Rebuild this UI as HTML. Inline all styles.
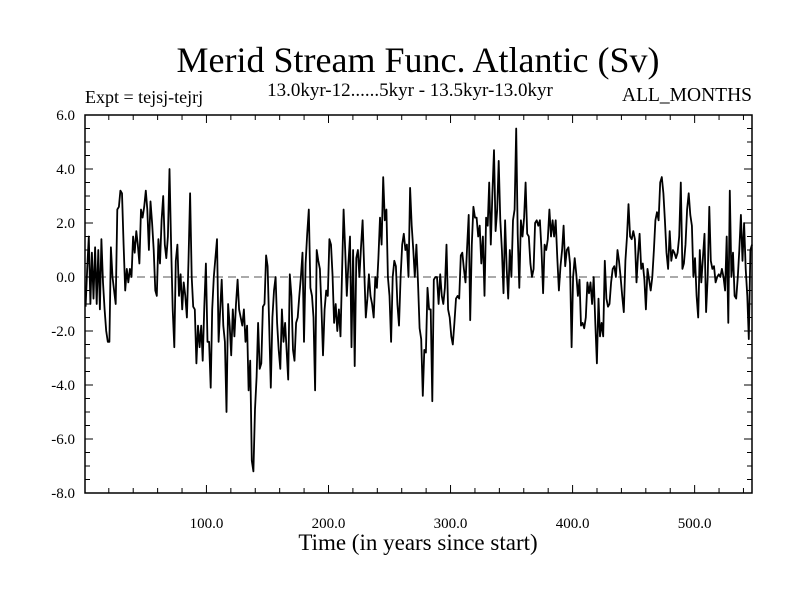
<!DOCTYPE html>
<html><head><meta charset="utf-8"><style>
body{margin:0;background:#fff}svg{display:block}
text{font-family:"Liberation Serif",serif;fill:#000}
</style></head><body>
<svg id="chart" width="800" height="600" xmlns="http://www.w3.org/2000/svg">
<text x="418" y="72" font-size="36" text-anchor="middle">Merid Stream Func. Atlantic (Sv)</text>
<text x="85" y="103" font-size="18">Expt = tejsj-tejrj</text>
<text x="410" y="96" font-size="19" text-anchor="middle">13.0kyr-12......5kyr - 13.5kyr-13.0kyr</text>
<text x="752" y="101" font-size="19.5" text-anchor="end">ALL_MONTHS</text>
<text x="418" y="550" font-size="23" text-anchor="middle">Time (in years since start)</text>
<g id="plot"></g>
</svg>
<script>
const xTickLabels=["100.0","200.0","300.0","400.0","500.0"];
const xTickValues=[100,200,300,400,500];
const yTickValues=[6,4,2,0,-2,-4,-6,-8];
const yTickLabels=["6.0","4.0","2.0","0.0","-2.0","-4.0","-6.0","-8.0"];
const values=[
-1.1,0.3,1.5,-1.0,0.9,-0.8,1.1,-1.0,1.0,-1.2,1.4,-0.2,-1.2,-2.0,-2.4,-2.4,1.1,0.0,-0.5,-1.0,2.5,2.6,3.2,3.1,1.2,-0.5,0.3,-0.2,0.3,0.0,1.5,0.9,1.7,1.2,0.5,2.5,2.2,2.6,3.2,2.5,1.0,2.8,2.0,1.0,-0.5,-0.7,1.4,0.5,2.1,3.0,1.2,0.7,1.5,4.0,1.2,-1.2,-2.6,0.6,1.2,-0.7,0.1,-1.2,-0.2,-0.7,-1.5,0.6,3.1,0.0,-1.1,-1.2,-3.2,-1.8,-2.6,-1.8,-3.1,-1.1,0.5,-2.4,-2.4,-4.1,-1.2,0.0,0.7,1.4,-2.4,-1.2,-0.1,-1.8,-2.4,-5.0,-1.0,-1.8,-2.9,-1.2,-2.2,-1.0,-0.1,-1.2,-1.5,-1.8,-1.2,-2.4,-1.8,-4.2,-3.1,-6.8,
-7.2,-4.9,-3.7,-1.7,-3.4,-3.2,-1.1,-1.0,0.8,0.4,-1.8,-4.1,-1.5,-0.5,0.0,-1.7,-2.7,-3.4,-1.2,-2.4,-1.7,-2.7,-3.8,0.1,-0.7,-2.7,-3.1,-1.7,-1.5,-0.7,0.0,0.9,-2.4,0.5,1.6,2.5,-0.4,-0.7,-1.5,-4.2,1.0,0.6,0.3,-1.2,-2.9,-1.2,-0.5,-0.7,1.4,1.2,0.1,-1.7,-1.0,-2.0,-1.2,-2.2,0.1,2.5,1.0,-0.7,0.5,1.5,-2.6,1.0,-3.3,0.7,1.0,0.0,1.1,2.1,0.3,-1.5,-0.8,0.1,-0.7,-1.0,-1.5,0.0,-0.4,0.7,2.2,1.2,3.7,2.1,2.5,0.0,-0.7,-2.4,0.0,0.6,0.4,-1.0,-1.8,0.0,1.2,1.6,1.0,1.2,0.0,3.3,1.9,1.0,0.0,
1.2,-0.2,-1.9,-2.3,-4.4,-2.7,-2.8,-0.4,-1.2,-1.2,-4.6,-0.1,0.0,0.0,-1.0,0.1,-0.7,-1.0,-0.4,1.2,-1.2,-1.5,-2.2,-2.5,-1.7,-0.8,-0.7,-0.8,0.8,0.9,0.3,-0.2,1.1,2.3,-1.6,1.2,2.6,2.2,2.2,1.5,1.9,0.5,1.5,-0.7,2.2,1.9,3.5,1.2,3.1,4.7,1.7,2.5,4.3,2.1,1.0,-0.6,2.1,0.3,-0.8,1.0,0.0,2.1,2.5,5.5,1.6,-0.4,2.1,1.5,2.2,3.5,1.6,1.5,0.5,0.0,0.3,2.0,2.1,1.9,2.1,1.0,-0.6,1.2,1.0,1.4,2.5,1.5,2.1,1.5,2.1,0.7,-0.5,0.4,1.0,1.9,0.4,1.0,1.1,0.5,-2.6,0.0,0.7,0.1,-0.7,-0.1,-1.8,
-1.7,-1.9,-1.5,-0.2,-0.6,-0.2,-1.0,0.0,-1.7,-3.2,-0.8,-2.2,-1.7,-2.2,0.6,-0.8,-1.1,-1.0,-0.2,0.3,0.4,0.0,1.0,0.6,0.0,-0.7,-1.3,0.6,1.5,2.7,1.5,1.4,1.7,1.4,-0.2,0.8,1.6,0.3,0.5,-0.1,-1.2,0.3,-0.1,-0.5,0.0,1.0,2.1,2.4,2.1,3.5,3.7,3.1,2.1,0.9,0.3,1.7,0.6,1.0,0.9,0.7,0.9,1.5,3.5,0.3,0.5,1.2,2.5,3.1,2.3,1.9,0.0,0.7,-0.7,-1.5,1.0,-0.2,0.7,1.6,-1.3,0.0,2.6,0.6,0.3,0.4,-0.2,0.0,0.1,0.0,0.3,0.0,-0.5,1.5,-1.7,3.2,0.0,0.9,-0.7,-0.8,0.0,1.0,2.3,0.6,2.0,0.3,-0.7,-2.3,1.0,1.2
];
const L=85,R=752,T=115,B=493,X0=0.5,X1=547,Y0=-8,Y1=6;
const sx=v=>L+(v-X0)/(X1-X0)*(R-L);
const sy=v=>B-(v-Y0)/(Y1-Y0)*(B-T);
const NS="http://www.w3.org/2000/svg";
const g=document.getElementById('plot');
function mk(tag,at){const e=document.createElementNS(NS,tag);for(const k in at)e.setAttribute(k,at[k]);g.appendChild(e);return e;}
let z=mk('line',{x1:L,x2:R,y1:sy(0),y2:sy(0),stroke:'#555','stroke-width':1,'stroke-dasharray':'8,5'});


const n=values.length;
let d='';
values.forEach((v,i)=>{const yr=1+i*(X1-1)/(n-1);d+=(i?'L':'M')+sx(yr).toFixed(1)+','+sy(v).toFixed(1);});
let p=mk('path',{d:d,fill:'none',stroke:'#000','stroke-width':1.8,'stroke-linejoin':'round'});


let f=mk('rect',{x:L,y:T,width:R-L,height:B-T,fill:'none',stroke:'#000','stroke-width':1.5});


for(let t=20;t<X1;t+=20){const x=sx(t),len=(t%100===0)?8:5;
 mk('line',{x1:x,x2:x,y1:B,y2:B-len,stroke:'#000'});mk('line',{x1:x,x2:x,y1:T,y2:T+len,stroke:'#000'});}
xTickValues.forEach((v,i)=>{const t=mk('text',{x:sx(v),y:B+35,'font-size':15,'text-anchor':'middle'});t.textContent=xTickLabels[i];
 
 });
for(let k=0;k<=28;k++){const v=Y0+k*0.5,y=sy(v),len=(k%4===0)?8:5;
 mk('line',{x1:L,x2:L+len,y1:y,y2:y,stroke:'#000'});mk('line',{x1:R,x2:R-len,y1:y,y2:y,stroke:'#000'});}
yTickValues.forEach((v,i)=>{const t=mk('text',{x:75,y:sy(v)+5,'font-size':15,'text-anchor':'end'});t.textContent=yTickLabels[i];
 
 });
</script>
</body></html>
